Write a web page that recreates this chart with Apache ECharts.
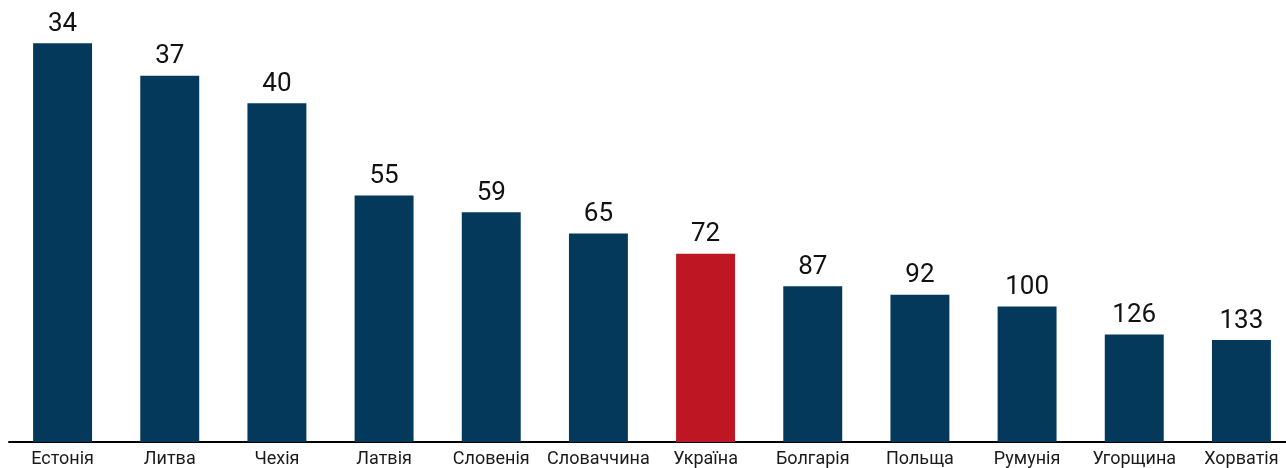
<!DOCTYPE html>
<html><head><meta charset="utf-8">
<script src="https://cdn.jsdelivr.net/npm/echarts@6/dist/echarts.min.js"></script>
<style>html,body{margin:0;padding:0;background:#fff}#c{width:1286px;height:468px}</style>
</head><body><div id="c"></div>
<script>
const categories = ['Естонія','Литва','Чехія','Латвія','Словенія','Словаччина','Україна','Болгарія','Польща','Румунія','Угорщина','Хорватія'];
const values = [34,37,40,55,59,65,72,87,92,100,126,133];
const highlight = 'Україна';

const chart = echarts.init(document.getElementById('c'), null, {renderer:'canvas'});
chart.setOption({
  animation:false,
  grid:{left:9,right:-9,top:11,bottom:26,containLabel:false,outerBoundsMode:'none'},
  xAxis:{type:'category',data:categories,
    axisLine:{lineStyle:{color:'#000',width:2}},axisTick:{show:false},
    axisLabel:{color:'#1a1a1a',fontFamily:'Roboto',fontSize:18,margin:8,interval:0}},
  yAxis:{type:'value',min:0,max:3.18,show:false,splitLine:{show:false}},
  series:[{type:'bar',barWidth:'55%',
    data: values.map((v,i)=>({value:100/v,
      itemStyle:{color: categories[i]===highlight ? '#BE1622' : '#04395B'}})),
    label:{show:true,position:'top',distance:6,color:'#111',fontFamily:'Roboto',fontSize:26,
      formatter:p=>String(values[p.dataIndex])}
  }]
});
</script></body></html>
